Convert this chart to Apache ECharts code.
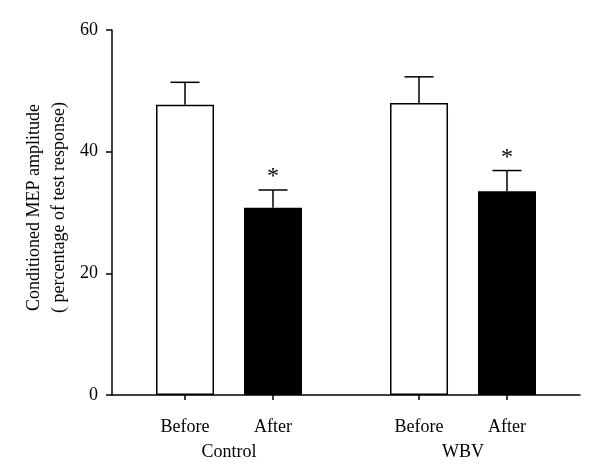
<!DOCTYPE html>
<html><head><meta charset="utf-8">
<script src="https://cdn.jsdelivr.net/npm/echarts@6/dist/echarts.min.js"></script>
<style>html,body{margin:0;padding:0;background:#fff}#c{width:600px;height:476px}</style>
</head><body><div id="c"></div>
<script>
// ---- data ----
const conditions = ['Before', 'After', 'Before', 'After'];
const groups = ['Control', 'WBV'];
const xPositions = [15.6, 34.4, 65.6, 84.4];
const groupPositions = [25, 75];
const means = [47.7, 30.8, 48.0, 33.5];
const errors = [3.7, 2.9, 4.3, 3.4];
const significant = [false, true, false, true];
const yTicks = [0, 20, 40, 60];
const yTitle = 'Conditioned MEP amplitude\n( percentage of test response)';

// ---- chart ----
const FONT = '"Liberation Serif", "Times New Roman", serif';
const chart = echarts.init(document.getElementById('c'), null, {renderer: 'canvas'});

function nearestIndex(arr, v) {
  let best = 0;
  for (let i = 1; i < arr.length; i++) if (Math.abs(arr[i] - v) < Math.abs(arr[best] - v)) best = i;
  return best;
}

const barData = xPositions.map((x, i) => ({
  value: [x, means[i]],
  itemStyle: conditions[i] === 'Before'
    ? {color: '#ffffff', borderColor: '#000', borderWidth: 1.5}
    : {color: '#000000', borderColor: '#000', borderWidth: 1.5}
}));

const errData = xPositions.map((x, i) => [x, means[i], errors[i], significant[i] ? 1 : 0]);

chart.setOption({
  animation: false,
  backgroundColor: '#fff',
  grid: {left: 112, right: 20, top: 30, bottom: 81, containLabel: false, outerBoundsMode: 'none'},
  xAxis: [{
    type: 'value', min: 0, max: 100,
    axisLine: {show: true, lineStyle: {color: '#000', width: 1.5}},
    axisTick: {show: true, customValues: xPositions, length: 5, inside: false, lineStyle: {color: '#000', width: 1.5}},
    axisLabel: {
      customValues: xPositions, margin: 23,
      formatter: v => conditions[nearestIndex(xPositions, v)],
      color: '#000', fontFamily: FONT, fontSize: 18
    },
    splitLine: {show: false}
  }, {
    type: 'value', min: 0, max: 100, position: 'bottom',
    axisLine: {show: false}, axisTick: {show: false},
    axisLabel: {
      customValues: groupPositions, margin: 48,
      formatter: v => groups[nearestIndex(groupPositions, v)],
      color: '#000', fontFamily: FONT, fontSize: 18
    },
    splitLine: {show: false}
  }],
  yAxis: {
    type: 'value', min: yTicks[0], max: yTicks[yTicks.length - 1], interval: yTicks[1] - yTicks[0],
    name: yTitle, nameLocation: 'middle', nameGap: 40, nameRotate: 90, nameMoveOverlap: false,
    nameTextStyle: {color: '#000', fontFamily: FONT, fontSize: 18, lineHeight: 25, align: 'center', padding: [0, 0, 0, 10]},
    axisLine: {show: true, lineStyle: {color: '#000', width: 1.5}},
    axisTick: {show: true, length: 6, lineStyle: {color: '#000', width: 1.5}},
    axisLabel: {color: '#000', fontFamily: FONT, fontSize: 18, margin: 14},
    splitLine: {show: false}
  },
  series: [{
    type: 'bar', xAxisIndex: 0, barWidth: 58, data: barData, z: 2
  }, {
    type: 'custom', xAxisIndex: 0, z: 3,
    data: errData,
    renderItem(params, api) {
      const x = api.value(0), m = api.value(1), e = api.value(2);
      const base = api.coord([x, m]);
      const top = api.coord([x, m + e]);
      const half = 14.5;
      const st = {stroke: '#000', lineWidth: 1.5};
      const children = [
        {type: 'line', shape: {x1: base[0], y1: base[1], x2: top[0], y2: top[1]}, style: st},
        {type: 'line', shape: {x1: top[0] - half, y1: top[1], x2: top[0] + half, y2: top[1]}, style: st}
      ];
      if (api.value(3)) {
        children.push({type: 'text', style: {text: '*', x: top[0], y: top[1] - 1, align: 'center', verticalAlign: 'bottom', font: '24px ' + FONT, fill: '#000'}});
      }
      return {type: 'group', children};
    }
  }]
});
</script>
</body></html>
